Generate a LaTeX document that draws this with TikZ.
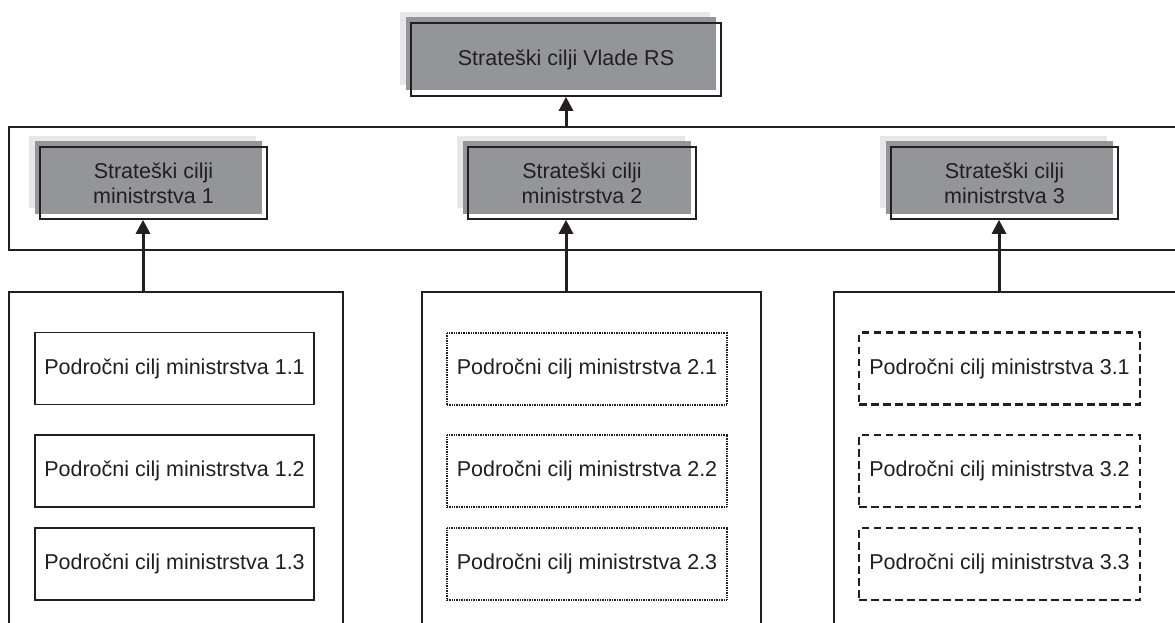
\documentclass[tikz,border=0pt]{standalone}
\usepackage{fontspec}
\setmainfont{Liberation Sans}
\usetikzlibrary{arrows.meta,shadows}
\definecolor{txt}{HTML}{231F20}
\definecolor{lightg}{HTML}{E6E7E8}
\definecolor{darkg}{HTML}{939598}
\tikzset{
  every node/.style={font=\fontsize{21.5}{25}\selectfont, text=txt, align=center},
  frame/.style={draw=txt, line width=1.6pt},
  goalbox/.style={draw=txt, line width=1.7pt, inner sep=0pt,
    general shadow={fill=lightg, shadow xshift=-11pt, shadow yshift=11pt},
    general shadow={fill=darkg, shadow xshift=-5.5pt, shadow yshift=5.5pt}},
  plainbox/.style={draw=txt, line width=1.6pt, minimum width=279pt, minimum height=72pt, inner sep=0pt},
  dotbox/.style={plainbox, line width=2pt, dash pattern=on 1pt off 0.7pt},
  dashbox/.style={plainbox, line width=2.8pt, dash pattern=on 7.5pt off 4.5pt},
  uparrow/.style={draw=txt, line width=3pt, -{Triangle[width=14pt,length=14pt]}}
}
\begin{document}
\begin{tikzpicture}[x=1pt,y=-1pt]
\useasboundingbox (0,0) rectangle (1175,623);
\clip (0,0) rectangle (1175,623);
\fill[white] (0,0) rectangle (1175,623);

% band and lower frames
\draw[frame] (9,127) rectangle (1185,250);
\draw[frame] (9,292) rectangle (343,640);
\draw[frame] (422,292) rectangle (761,640);
\draw[frame] (834,292) rectangle (1185,640);

% strategic goal boxes
\node[goalbox, minimum width=310pt, minimum height=73pt] (top) at (566,59.5) {Strateški cilji Vlade RS};
\node[goalbox, minimum width=227pt, minimum height=72pt] (m1) at (153.5,183) {Strateški cilji\\ministrstva 1};
\node[goalbox, minimum width=228pt, minimum height=72pt] (m2) at (582,183) {Strateški cilji\\ministrstva 2};
\node[goalbox, minimum width=227pt, minimum height=72pt] (m3) at (1004.5,183) {Strateški cilji\\ministrstva 3};

% sector goals
\node[plainbox] (p11) at (174.5,368.5) {Področni cilj ministrstva 1.1};
\node[plainbox] (p12) at (174.5,471) {Področni cilj ministrstva 1.2};
\node[plainbox] (p13) at (174.5,564) {Področni cilj ministrstva 1.3};
\node[dotbox, minimum width=280pt] (p21) at (587,368.5) {Področni cilj ministrstva 2.1};
\node[dotbox, minimum width=280pt] (p22) at (587,471) {Področni cilj ministrstva 2.2};
\node[dotbox, minimum width=280pt] (p23) at (587,564) {Področni cilj ministrstva 2.3};
\node[dashbox, minimum width=281pt] (p31) at (999.5,368.5) {Področni cilj ministrstva 3.1};
\node[dashbox, minimum width=281pt] (p32) at (999.5,471) {Področni cilj ministrstva 3.2};
\node[dashbox, minimum width=281pt] (p33) at (999.5,564) {Področni cilj ministrstva 3.3};

% arrows
\coordinate (a0) at (566,127);
\coordinate (a1) at (143,292);
\coordinate (a2) at (566,292);
\coordinate (a3) at (999,292);
\draw[uparrow] (a0) -- (a0 |- top.south);
\draw[uparrow] (a1) -- (a1 |- m1.south);
\draw[uparrow] (a2) -- (a2 |- m2.south);
\draw[uparrow] (a3) -- (a3 |- m3.south);
\end{tikzpicture}
\end{document}
